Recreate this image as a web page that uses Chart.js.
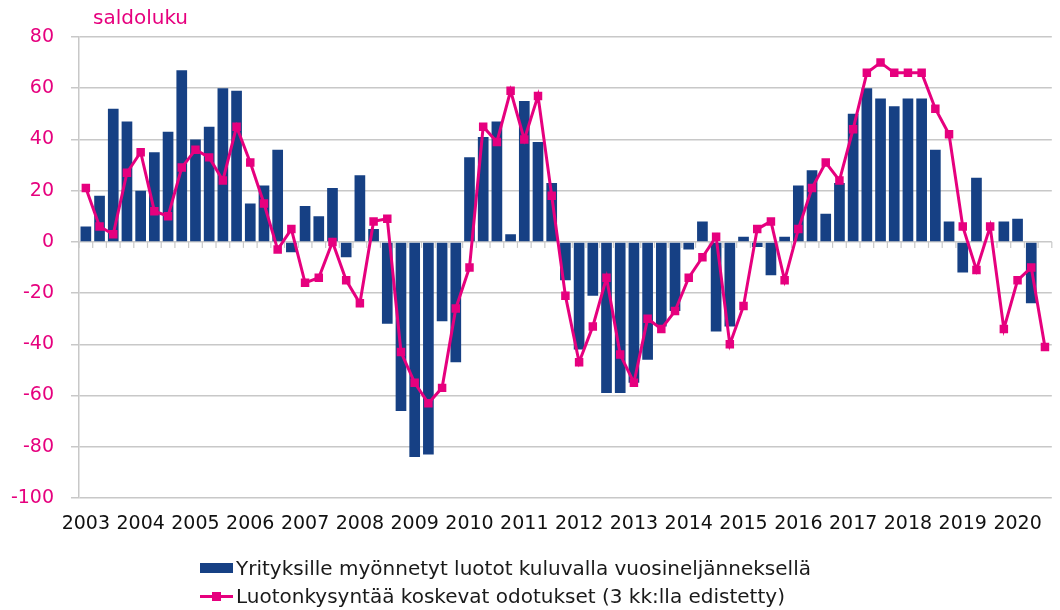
<!DOCTYPE html>
<html>
<head>
<meta charset="utf-8">
<script src="https://cdn.jsdelivr.net/npm/chart.js@4.4.1/dist/chart.umd.min.js"></script>
<style>
    body { margin: 0; background: #fff; }
    #wrap { position: relative; width: 1060px; height: 610px; }
    #legend {
        position: absolute; left: 200px; top: 554px;
        font: 20px 'DejaVu Sans', sans-serif; color: #1a1a1a;
    }
    .row { height: 28px; line-height: 28px; white-space: nowrap; display: flex; align-items: center; }
    .sym { position: relative; width: 33px; height: 12px; margin-right: 3px; flex: none; }
    .sym.bar { background: #164084; height: 10px; }
    .sym.line::before { content: ''; position: absolute; left: 0; right: 0; top: 5px; height: 3px; background: #E6007E; }
    .sym.line::after { content: ''; position: absolute; left: 12px; top: 2px; width: 9px; height: 9px; background: #E6007E; }
</style>
</head>
<body>
<div id="wrap">
    <canvas id="creditChart"></canvas>
    <div id="legend"></div>
</div>
<script>
// quarterly categories 2003 Q1 ... 2020 Q3
const firstYear = 2003;
const lastYear = 2020;
const quarterCount = 71;

const yTickMin = -100;
const yTickMax = 80;
const yTickStep = 20;

const unitLabel = 'saldoluku';
const barLabel = 'Yrityksille myönnetyt luotot kuluvalla vuosineljänneksellä';
const lineLabel = 'Luotonkysyntää koskevat odotukset (3 kk:lla edistetty)';

const barValues = [
    6, 18, 52, 47,  20, 35, 43, 67,  40, 45, 60, 59,  15, 22, 36, -4,
    14, 10, 21, -6,  26, 5, -32, -66,  -84, -83, -31, -47,  33, 41, 47, 3,
    55, 39, 23, -15,  -42, -21, -59, -59,  -55, -46, -33, -27,  -3, 8, -35, -33,
    2, -2, -13, 2,  22, 28, 11, 23,  50, 60, 56, 53,  56, 56, 36, 8,
    -12, 25, 0, 8,  9, -24, null
];

const lineValues = [
    21, 6, 3, 27,  35, 12, 10, 29,  36, 33, 24, 45,  31, 15, -3, 5,
    -16, -14, 0, -15,  -24, 8, 9, -43,  -55, -63, -57, -26,  -10, 45, 39, 59,
    40, 57, 18, -21,  -47, -33, -14, -44,  -55, -30, -34, -27,  -14, -6, 2, -40,
    -25, 5, 8, -15,  5, 21, 31, 24,  44, 66, 70, 66,  66, 66, 52, 42,
    6, -11, 6, -34,  -15, -10, -41
];

const navy = '#164084';
const magenta = '#E6007E';
const gridGrey = '#c8c8c8';
const fontFamily = "'DejaVu Sans', sans-serif";

let creditChart = null;

function buildLabels() {
    const labels = [];
    for (let i = 0; i < quarterCount; i++) {
        labels.push(i % 4 === 0 ? String(firstYear + i / 4) : '');
    }
    return labels;
}

// small ticks under the zero line between the quarters
const zeroTicks = {
    id: 'zeroTicks',
    beforeDatasetsDraw(chart) {
        const x = chart.scales.x;
        const y0 = chart.scales.y.getPixelForValue(0);
        const step = x.getPixelForValue(1) - x.getPixelForValue(0);
        const ctx = chart.ctx;
        ctx.save();
        ctx.strokeStyle = gridGrey;
        ctx.lineWidth = 1.2;
        for (let i = 0; i <= quarterCount; i++) {
            const px = x.getPixelForValue(0) - step / 2 + i * step;
            ctx.beginPath();
            ctx.moveTo(px, y0);
            ctx.lineTo(px, y0 + 6);
            ctx.stroke();
        }
        ctx.restore();
    }
};

const unitTitle = {
    id: 'unitTitle',
    afterDraw(chart) {
        const ctx = chart.ctx;
        ctx.save();
        ctx.fillStyle = magenta;
        ctx.font = '20px ' + fontFamily;
        ctx.textBaseline = 'middle';
        ctx.fillText(unitLabel, 93, 19);
        ctx.restore();
    }
};

function createChart() {
    const ctx = document.getElementById('creditChart').getContext('2d');
    creditChart = new Chart(ctx, {
        type: 'bar',
        data: {
            labels: buildLabels(),
            datasets: [{
                type: 'line',
                label: lineLabel,
                data: lineValues,
                borderColor: magenta,
                backgroundColor: magenta,
                borderWidth: 3,
                pointStyle: 'rect',
                pointRadius: 6,
                pointBorderWidth: 0,
                pointBackgroundColor: magenta,
                tension: 0,
                order: 1
            }, {
                type: 'bar',
                label: barLabel,
                data: barValues,
                backgroundColor: navy,
                borderWidth: 0,
                categoryPercentage: 1,
                barPercentage: 0.78,
                order: 2
            }]
        },
        options: {
            responsive: true,
            maintainAspectRatio: false,
            animation: false,
            layout: {
                padding: { top: 37, right: 0, bottom: 70, left: 0 }
            },
            scales: {
                x: {
                    grid: { display: false, drawTicks: false },
                    border: { display: false },
                    ticks: {
                        autoSkip: false,
                        maxRotation: 0,
                        minRotation: 0,
                        color: '#111',
                        padding: 15,
                        font: { family: fontFamily, size: 19 }
                    },
                    afterFit(scale) { scale.height = 42; }
                },
                y: {
                    min: yTickMin,
                    max: yTickMax,
                    ticks: {
                        stepSize: yTickStep,
                        color: magenta,
                        padding: 17,
                        font: { family: fontFamily, size: 19 }
                    },
                    grid: { color: gridGrey, lineWidth: 1.5, tickLength: 8 },
                    border: { display: true, color: gridGrey, width: 1.5 },
                    afterFit(scale) { scale.width = 79; }
                }
            },
            plugins: {
                legend: { display: false },
                tooltip: { enabled: false }
            }
        },
        plugins: [zeroTicks, unitTitle]
    });
}

function buildLegend() {
    const box = document.getElementById('legend');
    const items = [['bar', barLabel], ['line', lineLabel]];
    items.forEach(([kind, text]) => {
        const row = document.createElement('div');
        row.className = 'row';
        const sym = document.createElement('span');
        sym.className = 'sym ' + kind;
        const label = document.createElement('span');
        label.textContent = text;
        row.appendChild(sym);
        row.appendChild(label);
        box.appendChild(row);
    });
}

document.addEventListener('DOMContentLoaded', function () {
    createChart();
    buildLegend();
});
</script>
</body>
</html>
